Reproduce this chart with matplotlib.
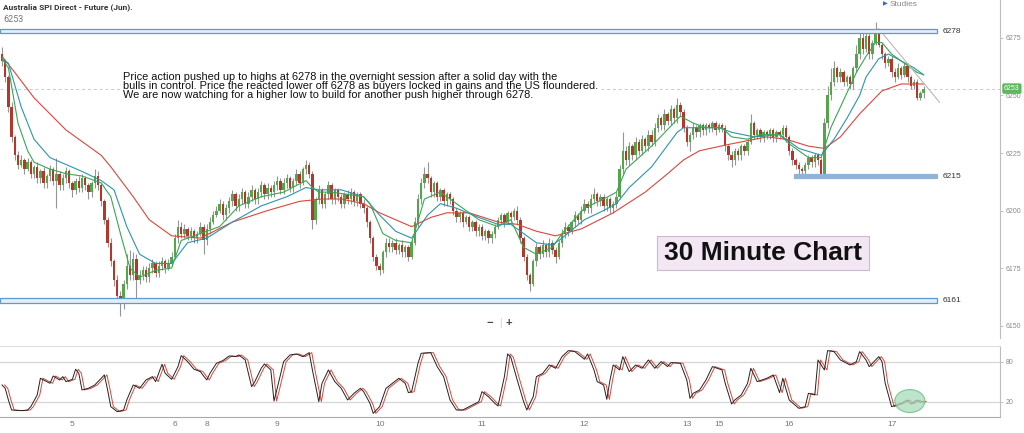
import matplotlib
matplotlib.use("Agg")
import matplotlib.pyplot as plt
import matplotlib.transforms as mtransforms
from matplotlib.patches import Rectangle, Ellipse
import numpy as np

plt.rcParams['font.family'] = ['Liberation Sans', 'DejaVu Sans']

# 30 minute candles, Australia SPI futures (estimated)
opens = [
    6268, 6265, 6258, 6245, 6232, 6224, 6220, 6222, 6218, 6221,
    6216, 6219, 6214, 6217, 6212, 6215, 6218, 6213, 6216, 6211,
    6214, 6217, 6212, 6209, 6213, 6210, 6214, 6211, 6208, 6212,
    6215, 6211, 6204, 6196, 6186, 6178, 6170, 6163, 6161, 6168,
    6176, 6172, 6179, 6170, 6172, 6174, 6171, 6175, 6177, 6173,
    6176, 6178, 6175, 6177, 6180, 6188, 6193, 6190, 6192, 6189,
    6191, 6188, 6190, 6193, 6187, 6192, 6195, 6198, 6200, 6203,
    6198, 6201, 6204, 6207, 6202, 6205, 6208, 6203, 6206, 6209,
    6205, 6208, 6211, 6207, 6210, 6208, 6211, 6213, 6209, 6212,
    6214, 6210, 6213, 6216, 6212, 6218, 6220, 6216, 6196, 6205,
    6209, 6203, 6207, 6211, 6205, 6209, 6206, 6203, 6207, 6205,
    6208, 6204, 6207, 6203, 6201, 6195, 6188, 6180, 6176, 6174,
    6182, 6186, 6184, 6186, 6183, 6185, 6182, 6184, 6180, 6186,
    6195, 6205, 6212, 6216, 6214, 6208, 6212, 6206, 6209, 6204,
    6207, 6205, 6200, 6197, 6199, 6195, 6197, 6193, 6195, 6191,
    6193, 6189, 6191, 6188, 6190, 6193, 6196, 6198, 6195, 6199,
    6197, 6200, 6196, 6188, 6180, 6172, 6168, 6178, 6184, 6181,
    6185, 6182, 6186, 6183, 6180, 6186, 6190, 6193, 6191, 6195,
    6198, 6196, 6200, 6203, 6201, 6205, 6207, 6204, 6206, 6202,
    6205, 6201, 6203, 6206, 6218, 6226, 6222, 6228, 6224, 6230,
    6226, 6231, 6228, 6233, 6230, 6236, 6240, 6237, 6242, 6239,
    6244, 6240, 6246, 6243, 6236, 6230, 6233, 6236, 6234, 6237,
    6235, 6237, 6236, 6238, 6235, 6237, 6236, 6228, 6224, 6222,
    6226, 6224, 6228, 6226, 6230, 6238, 6233, 6235, 6232, 6234,
    6233, 6235, 6232, 6234, 6233, 6236, 6232, 6226, 6222, 6220,
    6218, 6217, 6220, 6223, 6221, 6224, 6222, 6216, 6238, 6250,
    6256, 6262, 6258, 6260, 6256, 6258, 6255, 6262, 6268, 6275,
    6270, 6276, 6268, 6273, 6277, 6272, 6268, 6264, 6266, 6260,
    6258, 6262, 6259, 6263, 6258, 6254, 6256, 6249, 6251,
]
highs = [
    6271, 6266, 6259, 6247, 6233, 6226, 6224, 6223, 6223, 6222,
    6220, 6221, 6218, 6219, 6216, 6220, 6219, 6223, 6217, 6216,
    6219, 6218, 6213, 6214, 6215, 6216, 6215, 6212, 6213, 6218,
    6217, 6212, 6205, 6197, 6188, 6179, 6172, 6165, 6170, 6181,
    6183, 6182, 6181, 6174, 6176, 6176, 6177, 6179, 6178, 6178,
    6180, 6179, 6179, 6182, 6190, 6196, 6195, 6194, 6193, 6193,
    6192, 6191, 6195, 6194, 6194, 6197, 6200, 6202, 6205, 6204,
    6203, 6206, 6209, 6208, 6207, 6210, 6209, 6208, 6211, 6210,
    6210, 6213, 6212, 6212, 6211, 6213, 6215, 6214, 6214, 6216,
    6215, 6214, 6218, 6217, 6219, 6222, 6221, 6217, 6206, 6211,
    6210, 6208, 6213, 6212, 6210, 6210, 6207, 6208, 6209, 6210,
    6209, 6208, 6208, 6205, 6202, 6196, 6189, 6181, 6177, 6183,
    6188, 6188, 6187, 6188, 6186, 6187, 6185, 6185, 6187, 6197,
    6207, 6214, 6219, 6221, 6215, 6213, 6213, 6210, 6210, 6208,
    6208, 6206, 6201, 6200, 6200, 6198, 6198, 6196, 6196, 6194,
    6194, 6192, 6192, 6191, 6194, 6197, 6199, 6199, 6200, 6200,
    6201, 6202, 6197, 6189, 6181, 6173, 6179, 6186, 6185, 6187,
    6186, 6188, 6187, 6184, 6187, 6192, 6195, 6194, 6196, 6200,
    6199, 6202, 6205, 6204, 6207, 6210, 6208, 6207, 6207, 6206,
    6206, 6204, 6208, 6220, 6234, 6228, 6230, 6229, 6232, 6231,
    6233, 6232, 6235, 6235, 6238, 6242, 6241, 6244, 6243, 6246,
    6245, 6249, 6247, 6244, 6237, 6234, 6238, 6237, 6238, 6238,
    6238, 6238, 6239, 6239, 6238, 6238, 6237, 6229, 6226, 6227,
    6227, 6229, 6229, 6231, 6242, 6239, 6236, 6236, 6235, 6235,
    6236, 6236, 6235, 6235, 6237, 6237, 6233, 6227, 6223, 6221,
    6219, 6221, 6224, 6224, 6225, 6225, 6223, 6240, 6254, 6262,
    6265, 6263, 6262, 6261, 6259, 6259, 6263, 6272, 6279, 6277,
    6279, 6277, 6274, 6282, 6279, 6273, 6269, 6267, 6267, 6262,
    6264, 6263, 6264, 6264, 6259, 6257, 6257, 6252, 6254,
]
lows = [
    6263, 6256, 6243, 6230, 6222, 6218, 6219, 6216, 6217, 6214,
    6214, 6212, 6212, 6210, 6210, 6213, 6211, 6201, 6209, 6209,
    6212, 6210, 6206, 6207, 6208, 6208, 6209, 6205, 6206, 6210,
    6209, 6202, 6194, 6184, 6176, 6167, 6160, 6154, 6157, 6166,
    6170, 6170, 6160, 6168, 6170, 6169, 6169, 6173, 6171, 6171,
    6174, 6173, 6174, 6176, 6179, 6186, 6188, 6188, 6187, 6187,
    6186, 6186, 6189, 6181, 6185, 6190, 6194, 6197, 6199, 6196,
    6196, 6199, 6202, 6200, 6200, 6203, 6201, 6201, 6204, 6203,
    6203, 6206, 6205, 6205, 6206, 6206, 6209, 6207, 6207, 6210,
    6208, 6208, 6211, 6210, 6211, 6216, 6214, 6192, 6194, 6203,
    6201, 6201, 6205, 6203, 6203, 6204, 6201, 6201, 6203, 6203,
    6202, 6202, 6201, 6199, 6193, 6186, 6178, 6174, 6172, 6173,
    6180, 6182, 6182, 6181, 6181, 6180, 6180, 6178, 6179, 6185,
    6193, 6203, 6210, 6212, 6206, 6206, 6204, 6204, 6202, 6202,
    6203, 6198, 6195, 6195, 6193, 6194, 6191, 6191, 6189, 6189,
    6187, 6187, 6186, 6186, 6188, 6192, 6194, 6193, 6194, 6195,
    6196, 6194, 6186, 6178, 6170, 6165, 6167, 6176, 6179, 6180,
    6180, 6180, 6181, 6177, 6179, 6184, 6188, 6189, 6190, 6193,
    6194, 6194, 6199, 6199, 6199, 6203, 6202, 6202, 6200, 6200,
    6199, 6199, 6201, 6205, 6216, 6220, 6220, 6222, 6222, 6224,
    6224, 6226, 6226, 6228, 6228, 6234, 6235, 6235, 6237, 6237,
    6238, 6238, 6241, 6234, 6228, 6226, 6231, 6232, 6232, 6233,
    6233, 6234, 6234, 6233, 6234, 6234, 6226, 6222, 6219, 6220,
    6222, 6222, 6224, 6224, 6229, 6231, 6231, 6230, 6230, 6231,
    6231, 6230, 6230, 6231, 6231, 6230, 6224, 6220, 6218, 6216,
    6215, 6215, 6218, 6219, 6219, 6220, 6214, 6215, 6236, 6248,
    6254, 6256, 6256, 6254, 6254, 6253, 6253, 6260, 6266, 6268,
    6269, 6266, 6266, 6272, 6271, 6266, 6262, 6263, 6258, 6256,
    6257, 6257, 6258, 6256, 6253, 6253, 6248, 6248, 6249,
]
closes = [
    6265, 6258, 6245, 6232, 6224, 6220, 6222, 6218, 6221, 6216,
    6219, 6214, 6217, 6212, 6215, 6218, 6213, 6216, 6211, 6214,
    6217, 6212, 6209, 6213, 6210, 6214, 6211, 6208, 6212, 6215,
    6211, 6204, 6196, 6186, 6178, 6170, 6163, 6161, 6168, 6176,
    6172, 6179, 6170, 6172, 6174, 6171, 6175, 6177, 6173, 6176,
    6178, 6175, 6177, 6180, 6188, 6193, 6190, 6192, 6189, 6191,
    6188, 6190, 6193, 6187, 6192, 6195, 6198, 6200, 6203, 6198,
    6201, 6204, 6207, 6202, 6205, 6208, 6203, 6206, 6209, 6205,
    6208, 6211, 6207, 6210, 6208, 6211, 6213, 6209, 6212, 6214,
    6210, 6213, 6216, 6212, 6218, 6220, 6216, 6196, 6205, 6209,
    6203, 6207, 6211, 6205, 6209, 6206, 6203, 6207, 6205, 6208,
    6204, 6207, 6203, 6201, 6195, 6188, 6180, 6176, 6174, 6182,
    6186, 6184, 6186, 6183, 6185, 6182, 6184, 6180, 6186, 6195,
    6205, 6212, 6216, 6214, 6208, 6212, 6206, 6209, 6204, 6207,
    6205, 6200, 6197, 6199, 6195, 6197, 6193, 6195, 6191, 6193,
    6189, 6191, 6188, 6190, 6193, 6196, 6198, 6195, 6199, 6197,
    6200, 6196, 6188, 6180, 6172, 6168, 6178, 6184, 6181, 6185,
    6182, 6186, 6183, 6180, 6186, 6190, 6193, 6191, 6195, 6198,
    6196, 6200, 6203, 6201, 6205, 6207, 6204, 6206, 6202, 6205,
    6201, 6203, 6206, 6218, 6226, 6222, 6228, 6224, 6230, 6226,
    6231, 6228, 6233, 6230, 6236, 6240, 6237, 6242, 6239, 6244,
    6240, 6246, 6243, 6236, 6230, 6233, 6236, 6234, 6237, 6235,
    6237, 6236, 6238, 6235, 6237, 6236, 6228, 6224, 6222, 6226,
    6224, 6228, 6226, 6230, 6238, 6233, 6235, 6232, 6234, 6233,
    6235, 6232, 6234, 6233, 6236, 6232, 6226, 6222, 6220, 6218,
    6217, 6220, 6223, 6221, 6224, 6222, 6216, 6238, 6250, 6256,
    6262, 6258, 6260, 6256, 6258, 6255, 6262, 6268, 6275, 6270,
    6276, 6268, 6273, 6277, 6272, 6268, 6264, 6266, 6260, 6258,
    6262, 6259, 6263, 6258, 6254, 6256, 6249, 6251, 6253,
]

# moving averages, read at knots along each line (bar index, price)
ema_fast_x = [0, 2, 5, 8, 10, 15, 20, 25, 31, 34, 37, 40, 43, 48, 53, 56, 62, 68, 74, 81,
              88, 95, 97, 99, 103, 113, 115, 119, 123, 128, 132, 137, 142, 149, 155, 159,
              163, 167, 172, 175, 182, 188, 192, 195, 203, 212, 216, 220, 225, 228, 233,
              237, 243, 246, 252, 256, 259, 263, 267, 270, 273, 275, 278, 282, 286, 288]
ema_fast = [6266, 6262, 6238, 6226, 6221, 6218, 6216, 6215, 6212, 6206, 6190, 6175, 6171,
            6174, 6175, 6187, 6190, 6193, 6202, 6206, 6208, 6213, 6210, 6208, 6208, 6206,
            6203, 6190, 6187, 6186, 6205, 6208, 6203, 6196, 6193, 6196, 6184, 6181, 6184,
            6190, 6201, 6205, 6208, 6218, 6228, 6241, 6238, 6236, 6236, 6232, 6231, 6233,
            6233, 6229, 6223, 6223, 6236, 6248, 6260, 6267, 6273, 6273, 6268, 6264, 6260, 6259]
ema_mid_x = [0, 2, 6, 10, 15, 20, 25, 31, 35, 39, 43, 48, 53, 58, 64, 72, 81, 89, 95, 99,
             106, 113, 118, 123, 128, 133, 137, 142, 149, 155, 159, 163, 167, 172, 175, 182,
             188, 192, 196, 203, 211, 213, 224, 228, 235, 243, 249, 256, 260, 264, 268, 270,
             274, 277, 281, 285, 288]
ema_mid = [6266, 6264, 6245, 6231, 6223, 6220, 6217, 6213, 6209, 6193, 6181, 6177, 6177,
           6186, 6188, 6195, 6202, 6206, 6210, 6209, 6209, 6206, 6198, 6191, 6188, 6198,
           6203, 6201, 6197, 6194, 6194, 6190, 6186, 6185, 6188, 6196, 6200, 6203, 6210,
           6219, 6234, 6236, 6236, 6234, 6232, 6233, 6227, 6224, 6231, 6240, 6250, 6258,
           6266, 6268, 6265, 6262, 6259]
ema_slow_x = [0, 4, 10, 20, 31, 34, 41, 46, 53, 62, 72, 83, 93, 100, 106, 113, 118, 128,
              134, 139, 146, 155, 161, 167, 173, 181, 191, 201, 208, 213, 218, 228, 239,
              245, 252, 257, 262, 268, 275, 281, 288]
ema_slow = [6267, 6260, 6249, 6235, 6224, 6219, 6206, 6196, 6189, 6188, 6195, 6200, 6204,
            6205, 6205, 6203, 6199, 6193, 6197, 6199, 6199, 6195, 6194, 6191, 6189, 6192,
            6199, 6208, 6216, 6222, 6226, 6229, 6232, 6231, 6228, 6227, 6232, 6242, 6252,
            6255, 6255]

# stochastic %K (bar index, value)
stoch_x = [0, 1, 2, 3, 6, 8, 9, 11, 12, 14,
           15, 16, 18, 19, 20, 22, 23, 24, 25, 27,
           29, 31, 32, 33, 34, 36, 38, 39, 41, 43,
           45, 47, 48, 50, 51, 53, 55, 56, 58, 60,
           62, 63, 64, 65, 67, 69, 71, 73, 74, 76,
           78, 79, 81, 82, 84, 85, 86, 88, 90, 92,
           94, 96, 97, 99, 100, 102, 104, 106, 108, 110,
           112, 113, 115, 116, 118, 120, 122, 124, 126, 127,
           128, 130, 131, 134, 136, 138, 140, 142, 144, 146,
           149, 150, 152, 154, 155, 157, 158, 159, 161, 163,
           164, 166, 167, 169, 171, 173, 175, 177, 179, 181,
           182, 183, 185, 186, 188, 189, 190, 191, 193, 194,
           196, 198, 200, 202, 204, 206, 208, 209, 212, 214,
           215, 216, 218, 220, 222, 225, 226, 228, 229, 231,
           233, 234, 236, 239, 241, 243, 244, 246, 249, 251,
           252, 254, 255, 257, 258, 260, 262, 265, 267, 268,
           270, 271, 274, 275, 276, 278, 281, 283, 284, 286,
           287, 288]
stoch_k = [45.5, 40.5, 23, 8, 7, 8, 13, 30.5, 55.5, 50.5,
           48, 59, 53, 58, 50.5, 54, 69, 63, 38, 40.5,
           45.5, 55.5, 60.5, 38, 13, 5.5, 8, 23, 45.5, 40.5,
           53, 58, 50.5, 76.5, 63, 54, 73, 89.5, 80.5, 69,
           65.5, 59, 53, 63, 78, 82, 89, 88, 90.5, 83,
           43, 50.5, 70.5, 77, 68, 21.5, 40.5, 80.5, 90.5, 92,
           88, 94, 68, 20.5, 48, 68, 50.5, 40.5, 23, 33,
           40.5, 35.5, 18, 3, 13, 40.5, 48, 55.5, 48, 34,
           35.5, 78, 93, 94, 73, 58, 23, 8, 8, 13,
           20.5, 35.5, 28, 18, 14, 58, 92, 87, 53, 20.5,
           8, 28, 58, 63, 75.5, 70.5, 88, 97, 95.5, 88,
           84, 92, 68, 50.5, 45.5, 24, 53, 75.5, 68, 88,
           65.5, 75.5, 70.5, 83, 70.5, 80.5, 73, 79, 78, 53,
           25.5, 33, 38, 53, 73, 68, 48, 17, 23, 30.5,
           48, 70.5, 50.5, 55.5, 60.5, 34, 55.5, 23, 10.5, 13,
           33, 30.5, 83, 68, 97, 95.5, 83, 75.5, 80.5, 95.5,
           83, 73, 88, 80.5, 48, 13, 18, 23, 17, 23,
           19.5, 21]
D_LAG = 0.8  # %D line trails %K by about one bar

day_ticks = [22, 54, 64, 86, 118, 150, 182, 214, 224, 246, 278]
day_labels = ['5', '6', '8', '9', '10', '11', '12', '13', '15', '16', '17']

level_prices = [6278, 6215, 6161]
level_start = [0, 248, 0]
last_price = 6253
trend_x = [274, 293]
trend_y = [6279, 6247]

note = ("Price action pushed up to highs at 6278 in the overnight session after a solid day with the\n"
        "bulls in control. Price the reacted lower off 6278 as buyers locked in gains and the US floundered.\n"
        "We are now watching for a higher low to build for another push higher through 6278.")

W, H = 1024, 433
fig = plt.figure(figsize=(W / 100, H / 100), dpi=100)
ax = fig.add_axes([0, 1 - 338 / H, 1000 / W, 338 / H])
ax2 = fig.add_axes([0, 16 / H, 1000 / W, 71 / H])
xlim = (-0.625, 311.875)

# candles
x = np.arange(len(closes))
o, hi, lo, c = map(np.array, (opens, highs, lows, closes))
up = c >= o
ax.vlines(x, lo, hi, color='#959595', lw=0.8, zorder=2)
ax.bar(x, np.maximum(np.abs(c - o), 0.5), bottom=np.minimum(o, c), width=0.75,
       color=np.where(up, '#55a64b', '#b3372a'), lw=0, zorder=3)

ax.plot(ema_slow_x, ema_slow, color='#d9473c', lw=0.8, zorder=4)
ax.plot(ema_mid_x, ema_mid, color='#2f93ad', lw=0.8, zorder=4)
ax.plot(ema_fast_x, ema_fast, color='#3ba653', lw=0.8, zorder=4)

ax.axhline(last_price, color='#c9c9c9', lw=0.7, ls=(0, (3, 3)), zorder=1)
ax.plot(trend_x, trend_y, color='#b8b8b8', lw=0.8, zorder=4)

for price, start in zip(level_prices, level_start):
    if start > 0:
        fc, ec = '#8fb4d8', '#8fb4d8'
    else:
        fc, ec = '#e4eef9', '#5b9bd5'
    ax.add_patch(Rectangle((start - 0.6, price - 1.0), 292.3 - start + 0.6, 2.0,
                           fc=fc, ec=ec, lw=0.9, zorder=5))
    ax.text(294, price, str(price), fontsize=6, color='#333', va='center', ha='left')

ax.set_xlim(*xlim)
ax.set_ylim(6144.6, 6291.5)
ax.yaxis.tick_right()
ax.set_yticks([6150, 6175, 6200, 6225, 6250, 6275])
ax.tick_params(axis='y', labelsize=5, labelcolor='#8a8a8a', color='#aaa', length=2, width=0.5, pad=2)
ax.set_xticks([])
for s in ('top', 'left', 'bottom'):
    ax.spines[s].set_visible(False)
ax.spines['right'].set_color('#bdbdbd')
ax.spines['right'].set_linewidth(0.8)

tr = mtransforms.blended_transform_factory(ax.transAxes, ax.transData)
ax.text(1.004, last_price, str(last_price), transform=tr, fontsize=5, color='white',
        va='center', ha='left', clip_on=False, zorder=10,
        bbox=dict(boxstyle='round,pad=0.25', fc='#5cb85c', ec='none'))

# stochastic
ax2.axhline(80, color='#d6d6d6', lw=0.9)
ax2.axhline(20, color='#d6d6d6', lw=0.9)
sx = np.array(stoch_x, dtype=float)
ax2.plot(sx + D_LAG, stoch_k, color='#d9473c', lw=0.7)
ax2.plot(sx, stoch_k, color='#222222', lw=0.7)
ax2.add_patch(Ellipse((283.7, 21.4), 9.4, 34.5, fc='#a9dcba', ec='#5cb87a', lw=0.8, alpha=0.75, zorder=5))
ax2.set_xlim(*xlim)
ax2.set_ylim(-2.5, 103.9)
ax2.yaxis.tick_right()
ax2.set_yticks([20, 80])
ax2.tick_params(axis='y', labelsize=5, labelcolor='#8a8a8a', color='#aaa', length=2, width=0.5, pad=2)
ax2.set_xticks(day_ticks)
ax2.set_xticklabels(day_labels)
ax2.tick_params(axis='x', labelsize=6, labelcolor='#777', length=0, pad=3)
ax2.spines['left'].set_visible(False)
ax2.spines['top'].set_color('#dddddd')
ax2.spines['bottom'].set_color('#aaaaaa')
ax2.spines['right'].set_color('#bdbdbd')
for s in ('top', 'bottom', 'right'):
    ax2.spines[s].set_linewidth(0.8)

# header and annotations
fig.text(3 / W, 1 - 7 / H, 'Australia SPI Direct - Future (Jun).', fontsize=6, weight='bold',
         color='#333', va='center', family=['Roboto', 'DejaVu Sans'])
fig.text(3 / W, 1 - 19 / H, '6253', fontsize=6.5, color='#777', va='center',
         family=['Roboto', 'DejaVu Sans'])
fig.text(883 / W, 1 - 4 / H, '\u25b6', fontsize=4.5, color='#2f6fc0', va='center', family=['DejaVu Sans'])
fig.text(890 / W, 1 - 4 / H, 'Studies', fontsize=6, color='#888', va='center')

fig.text(123 / W, 1 - 86 / H, note, fontsize=7.9, color='#111', va='center', ha='left',
         linespacing=0.93, bbox=dict(boxstyle='square,pad=0.1', fc='white', ec='none'))

fig.add_artist(Rectangle((657 / W, 1 - 270 / H), 212 / W, 34 / H, transform=fig.transFigure,
                         fc='#f3e7f3', ec='#cdb8cf', lw=0.8))
fig.text(763 / W, 1 - 253 / H, '30 Minute Chart', fontsize=19, weight='bold', color='#111',
         ha='center', va='center')

fig.text(490 / W, 1 - 323 / H, '\u2212', fontsize=8, weight='bold', color='#444', ha='center', va='center')
fig.text(500 / W, 1 - 323 / H, '|', fontsize=7, color='#ccc', ha='center', va='center')
fig.text(509 / W, 1 - 323 / H, '+', fontsize=8, weight='bold', color='#444', ha='center', va='center')

fig.savefig('out.png', dpi=100)
